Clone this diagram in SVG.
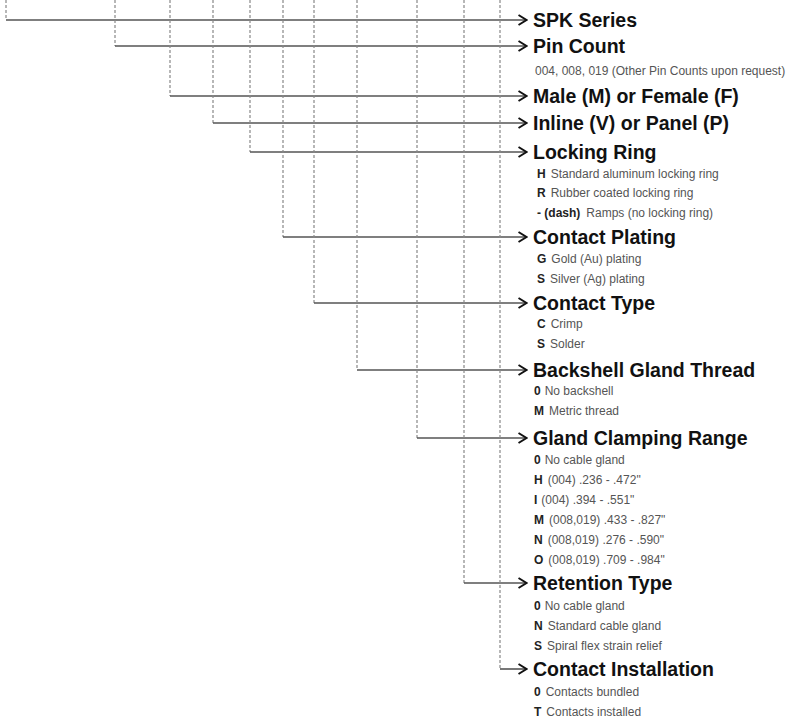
<svg xmlns="http://www.w3.org/2000/svg" width="806" height="720" viewBox="0 0 806 720">
<defs>
<style>
.h{font-family:"Liberation Sans",Arial,sans-serif;font-weight:bold;font-size:19.5px;fill:#111}
.s{font-family:"Liberation Sans",Arial,sans-serif;font-size:12px;fill:#555}
.s .k{font-weight:bold;fill:#222}
.d{stroke:#888;stroke-width:1.2;stroke-dasharray:3 2;fill:none}
.l{stroke:#555;stroke-width:1.6;fill:none}
</style>
<marker id="ah" viewBox="0 0 10 12" refX="9.5" refY="6" markerWidth="10" markerHeight="12" markerUnits="userSpaceOnUse" orient="auto">
<path d="M1,1 L9,6 L1,11" fill="none" stroke="#111" stroke-width="2"/>
</marker>
</defs>
<rect width="806" height="720" fill="#fff"/>
<g id="connectors">
<path class="d" d="M6,0V20"/><path class="l" d="M6,20H527" marker-end="url(#ah)"/>
<path class="d" d="M115,0V46"/><path class="l" d="M115,46H527" marker-end="url(#ah)"/>
<path class="d" d="M170,0V96"/><path class="l" d="M170,96H527" marker-end="url(#ah)"/>
<path class="d" d="M213,0V123"/><path class="l" d="M213,123H527" marker-end="url(#ah)"/>
<path class="d" d="M250,0V152"/><path class="l" d="M250,152H527" marker-end="url(#ah)"/>
<path class="d" d="M283,0V237"/><path class="l" d="M283,237H527" marker-end="url(#ah)"/>
<path class="d" d="M314,0V303"/><path class="l" d="M314,303H527" marker-end="url(#ah)"/>
<path class="d" d="M357,0V370"/><path class="l" d="M357,370H527" marker-end="url(#ah)"/>
<path class="d" d="M417,0V438"/><path class="l" d="M417,438H527" marker-end="url(#ah)"/>
<path class="d" d="M464,0V583"/><path class="l" d="M464,583H527" marker-end="url(#ah)"/>
<path class="d" d="M500,0V669"/><path class="l" d="M500,669H527" marker-end="url(#ah)"/>
</g>
<g id="spk-series"><text class="h" x="533" y="27">SPK Series</text></g>
<g id="pin-count"><text class="h" x="533" y="53">Pin Count</text>
<text class="s" x="535" y="75">004, 008, 019 (Other Pin Counts upon request)</text></g>
<g id="male-female"><text class="h" x="533" y="103">Male (M) or Female (F)</text></g>
<g id="inline-panel"><text class="h" x="533" y="130">Inline (V) or Panel (P)</text></g>
<g id="locking-ring"><text class="h" x="533" y="159">Locking Ring</text>
<text class="s" x="537" y="178"><tspan class="k">H</tspan><tspan dx="5">Standard aluminum locking ring</tspan></text>
<text class="s" x="537" y="197"><tspan class="k">R</tspan><tspan dx="5">Rubber coated locking ring</tspan></text>
<text class="s" x="537" y="217"><tspan class="k">- (dash)</tspan><tspan dx="6">Ramps (no locking ring)</tspan></text></g>
<g id="contact-plating"><text class="h" x="533" y="244">Contact Plating</text>
<text class="s" x="537" y="263"><tspan class="k">G</tspan><tspan dx="5">Gold (Au) plating</tspan></text>
<text class="s" x="537" y="283"><tspan class="k">S</tspan><tspan dx="5">Silver (Ag) plating</tspan></text></g>
<g id="contact-type"><text class="h" x="533" y="310">Contact Type</text>
<text class="s" x="537" y="328"><tspan class="k">C</tspan><tspan dx="5">Crimp</tspan></text>
<text class="s" x="537" y="348"><tspan class="k">S</tspan><tspan dx="5">Solder</tspan></text></g>
<g id="backshell"><text class="h" x="533" y="377">Backshell Gland Thread</text>
<text class="s" x="534" y="395"><tspan class="k">0</tspan><tspan dx="4">No backshell</tspan></text>
<text class="s" x="534" y="415"><tspan class="k">M</tspan><tspan dx="5">Metric thread</tspan></text></g>
<g id="gland-clamping"><text class="h" x="533" y="445">Gland Clamping Range</text>
<text class="s" x="534" y="464"><tspan class="k">0</tspan><tspan dx="4">No cable gland</tspan></text>
<text class="s" x="534" y="484"><tspan class="k">H</tspan><tspan dx="5">(004) .236 - .472"</tspan></text>
<text class="s" x="534" y="504"><tspan class="k">I</tspan><tspan dx="4">(004) .394 - .551"</tspan></text>
<text class="s" x="534" y="524"><tspan class="k">M</tspan><tspan dx="5">(008,019) .433 - .827"</tspan></text>
<text class="s" x="534" y="544"><tspan class="k">N</tspan><tspan dx="5">(008,019) .276 - .590"</tspan></text>
<text class="s" x="534" y="564"><tspan class="k">O</tspan><tspan dx="5">(008,019) .709 - .984"</tspan></text></g>
<g id="retention-type"><text class="h" x="533" y="590">Retention Type</text>
<text class="s" x="534" y="610"><tspan class="k">0</tspan><tspan dx="4">No cable gland</tspan></text>
<text class="s" x="534" y="630"><tspan class="k">N</tspan><tspan dx="5">Standard cable gland</tspan></text>
<text class="s" x="534" y="650"><tspan class="k">S</tspan><tspan dx="5">Spiral flex strain relief</tspan></text></g>
<g id="contact-installation"><text class="h" x="533" y="676">Contact Installation</text>
<text class="s" x="534" y="696"><tspan class="k">0</tspan><tspan dx="5">Contacts bundled</tspan></text>
<text class="s" x="534" y="716"><tspan class="k">T</tspan><tspan dx="5">Contacts installed</tspan></text></g>
</svg>
